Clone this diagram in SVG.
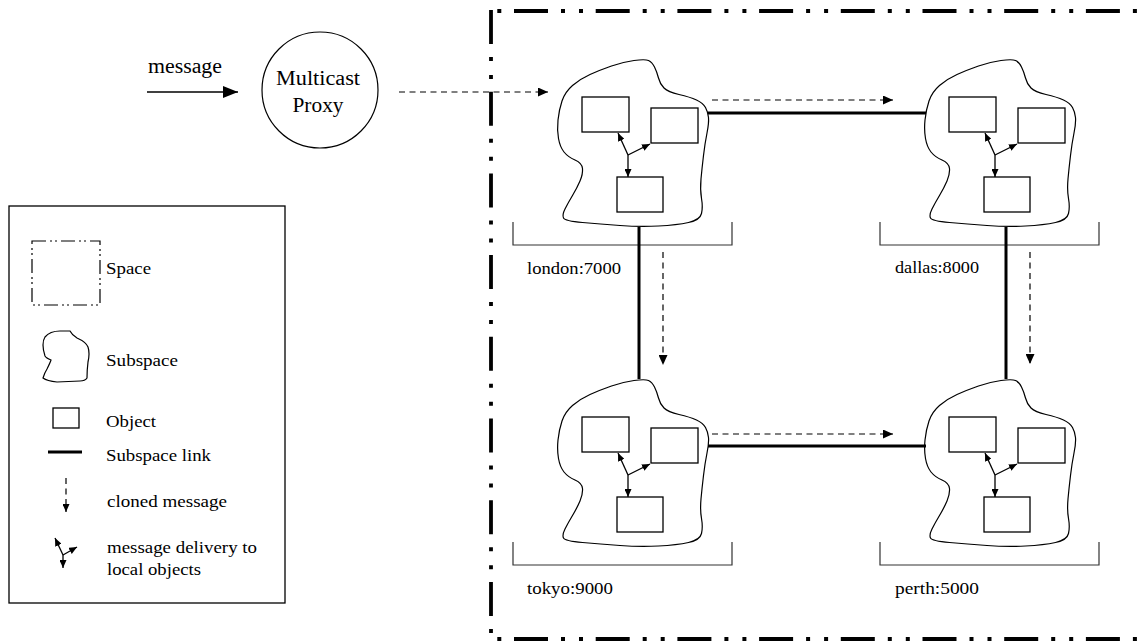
<svg xmlns="http://www.w3.org/2000/svg" xmlns:xlink="http://www.w3.org/1999/xlink" width="1148" height="641" viewBox="0 0 1148 641">
<style>
.t{font-family:"Liberation Serif","Times New Roman",serif;font-size:17px;fill:#000}
.big{font-size:20px}
.obj{fill:#fff;stroke:#000;stroke-width:1.3}
.blob{fill:none;stroke:#000;stroke-width:1.2}
.link{stroke:#000;stroke-width:3;fill:none}
.dash{stroke:#000;stroke-width:1.2;stroke-dasharray:6 4.5;fill:none}
.brk{fill:none;stroke:#333;stroke-width:1.2}
.deliv{stroke:#000;stroke-width:1.3;fill:none}
.space{fill:none;stroke:#000;stroke-width:3.8;stroke-dasharray:34 13 4 14 4 12.7}
.hspace{stroke-dashoffset:56.7}
</style>
<defs>
<marker id="ah" markerUnits="userSpaceOnUse" markerWidth="10" markerHeight="9" refX="10" refY="4.5" orient="auto"><path d="M0,0 L10,4.5 L0,9 z" fill="#000"/></marker>
<marker id="bh" markerUnits="userSpaceOnUse" markerWidth="15" markerHeight="12" refX="15" refY="6" orient="auto"><path d="M0,0 L15,6 L0,12 z" fill="#000"/></marker>
<marker id="sh" markerUnits="userSpaceOnUse" markerWidth="8" markerHeight="7" refX="8" refY="3.5" orient="auto"><path d="M0,0 L8,3.5 L0,7 z" fill="#000"/></marker>
<g id="sub">
<path class="blob" d="M572.5,85.5 Q565,92 562,101 Q559,110 558,120 Q557,130 558.5,138.5 Q560,147 564,152 Q568,157 575,160 Q582,163 582.5,168.5 Q583,174 580,181 Q577,188 572.5,195.5 Q568,203 565,209 Q562,215 563.5,218 Q565,221 582.5,222.5 Q600,224 620,225.5 Q640,227 658.5,226 Q677,225 688.5,222.5 Q700,220 701.5,213.5 Q703,207 701.5,198.5 Q700,190 701,179 Q702,168 703.5,155.5 Q705,143 707,133 Q709,123 708.5,117.5 Q708,112 705.5,107.5 Q703,103 696.5,100 Q690,97 679,94.5 Q668,92 664,88 Q660,84 658.5,78 Q657,72 654.5,67 Q652,62 648.5,60.5 Q645,59 634,60.5 Q623,62 611.5,66 Q600,70 590,74.5 Q580,79 572.5,85.5 Z"/>
<rect class="obj" x="582" y="97" width="47" height="35"/>
<rect class="obj" x="651" y="108" width="47" height="35"/>
<rect class="obj" x="617" y="177" width="46" height="35"/>
<path class="deliv" d="M628,155 L618,133" marker-end="url(#sh)"/>
<path class="deliv" d="M628,155 L650,144" marker-end="url(#sh)"/>
<path class="deliv" d="M628,155 L628,177" marker-end="url(#sh)"/>
<path class="brk" d="M513,222 V245 H732 V222"/>
</g>
</defs>
<rect width="1148" height="641" fill="#fff"/>

<g id="space">
<path class="space" d="M491,10 V641"/>
<path class="space hspace" d="M489,11 H1148"/>
<path class="space hspace" d="M489,639 H1148"/>
</g>

<g id="proxy">
<circle cx="320" cy="90" r="58" fill="none" stroke="#000" stroke-width="1.2"/>
<text class="t big" x="318" y="85" text-anchor="middle" textLength="84" lengthAdjust="spacingAndGlyphs">Multicast</text>
<text class="t big" x="318" y="112" text-anchor="middle" textLength="51" lengthAdjust="spacingAndGlyphs">Proxy</text>
</g>

<g id="london">
<use xlink:href="#sub"/>
<text class="t" x="527" y="274" textLength="94" lengthAdjust="spacingAndGlyphs">london:7000</text>
</g>
<g id="dallas" transform="translate(367,0)">
<use xlink:href="#sub"/>
<text class="t" x="528" y="273" textLength="84" lengthAdjust="spacingAndGlyphs">dallas:8000</text>
</g>
<g id="tokyo" transform="translate(0,320)">
<use xlink:href="#sub"/>
<text class="t" x="527" y="274" textLength="86" lengthAdjust="spacingAndGlyphs">tokyo:9000</text>
</g>
<g id="perth" transform="translate(367,320)">
<use xlink:href="#sub"/>
<text class="t" x="528" y="274" textLength="84" lengthAdjust="spacingAndGlyphs">perth:5000</text>
</g>

<g id="legend">
<rect x="9" y="206" width="276" height="397" fill="none" stroke="#000" stroke-width="1.3"/>
<rect x="32" y="241" width="68" height="64" fill="none" stroke="#000" stroke-width="1.2" stroke-dasharray="14 4 2 3 2 4"/>
<text class="t" x="106" y="274" textLength="45" lengthAdjust="spacingAndGlyphs">Space</text>
<path class="blob" d="M45,337 Q50,331 60,331 L70,331 Q72,335 77,338 Q86,342 88,347 Q90,353 88,362 Q87,370 87,378 Q85,381 80,381 L57,382 Q47,381 43,378 Q45,372 47,369 Q50,363 51,360 Q46,358 45,356 Q43,350 43,345 Q43,340 45,337 Z"/>
<text class="t" x="106" y="366" textLength="72" lengthAdjust="spacingAndGlyphs">Subspace</text>
<rect class="obj" x="53" y="408" width="26" height="20"/>
<text class="t" x="106" y="427" textLength="50" lengthAdjust="spacingAndGlyphs">Object</text>
<path class="link" d="M48,452 H82"/>
<text class="t" x="106" y="461" textLength="105" lengthAdjust="spacingAndGlyphs">Subspace link</text>
<path class="dash" d="M66,478 V512" stroke-dasharray="4 3" marker-end="url(#sh)"/>
<text class="t" x="107" y="507" textLength="120" lengthAdjust="spacingAndGlyphs">cloned message</text>
<path class="deliv" d="M63,555 L55,538" marker-end="url(#sh)"/>
<path class="deliv" d="M63,555 L77,547" marker-end="url(#sh)"/>
<path class="deliv" d="M63,555 L63,568" marker-end="url(#sh)"/>
<text class="t" x="107" y="553" textLength="150" lengthAdjust="spacingAndGlyphs">message delivery to</text>
<text class="t" x="107" y="575" textLength="94" lengthAdjust="spacingAndGlyphs">local objects</text>
</g>

<g id="connectors">
<path d="M147,92 H238" stroke="#000" stroke-width="1.5" marker-end="url(#bh)"/>
<text class="t big" x="148" y="73" textLength="74" lengthAdjust="spacingAndGlyphs">message</text>
<path class="dash" d="M399,92 H548" marker-end="url(#ah)"/>
<path class="link" d="M708,113 H926"/>
<path class="link" d="M708,446 H926"/>
<path class="link" d="M639,227 V379"/>
<path class="link" d="M1006,227 V379"/>
<path class="dash" d="M712,100 H893" marker-end="url(#ah)"/>
<path class="dash" d="M712,434 H893" marker-end="url(#ah)"/>
<path class="dash" d="M663,252 V365" marker-end="url(#ah)"/>
<path class="dash" d="M1030,252 V364" marker-end="url(#ah)"/>
</g>
</svg>
